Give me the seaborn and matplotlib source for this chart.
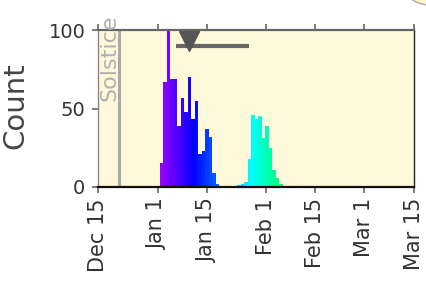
import numpy as np
import pandas as pd
import matplotlib
matplotlib.use("Agg")
import matplotlib.pyplot as plt
import seaborn as sns
from matplotlib.patches import Circle

# ---------------- data (days counted from Dec 15) ----------------
tick_days = [0, 17, 31, 48, 62, 76, 90]
tick_labels = ["Dec 15", "Jan 1", "Jan 15", "Feb 1", "Feb 15", "Mar 1", "Mar 15"]
early_days = [18, 19, 20, 21, 22, 23, 24, 25, 26, 27, 28, 29, 30, 31, 32, 33, 34]
early_counts = [15, 67, 100, 69, 69, 39, 57, 48, 70, 43, 55, 21, 23, 37, 32, 9, 2]
late_days = [40, 41, 42, 43, 44, 45, 46, 47, 48, 49, 50, 51, 52]
late_counts = [1, 2, 3, 18, 46, 43, 45, 31, 39, 25, 11, 6, 2]
solstice_day = 6
mean_day = 26
mean_level = 93
range_days = [22.3, 43.1]
range_level = 90
y_ticks = [0, 50, 100]

# ---------------- figure ----------------
sns.set_style("ticks")
plt.rcParams["font.family"] = ["DejaVu Sans"]

fig = plt.figure(figsize=(4.26, 2.91), dpi=100)
ax = fig.add_axes([98 / 426, 1 - 187 / 291, 315.5 / 426, 157 / 291])

df = pd.DataFrame({"day": early_days + late_days,
                   "count": early_counts + late_counts})
bins = [float(b) for b in np.arange(early_days[0] - 0.35, late_days[-1] + 0.66, 1.0)]
sns.histplot(data=df, x="day", weights="count", bins=bins, ax=ax,
             alpha=1, linewidth=0, element="bars")

cmap = matplotlib.colormaps["hsv_r"]
norm = matplotlib.colors.Normalize(vmin=-3, vmax=91.5)
for p in ax.patches:
    c = cmap(norm(p.get_x() + p.get_width() / 2))
    p.set_facecolor(c)
    p.set_edgecolor(c)
    p.set_linewidth(0)

ax.axvline(solstice_day, color="#aaaaaa", lw=2.2, zorder=1)
ax.text(3.4, 55, "Solstice", rotation=90, ha="center", va="bottom",
        color="#b0b0b0", fontsize=16, clip_on=False)

ax.plot(range_days, [range_level, range_level], color="#666666", lw=3,
        solid_capstyle="butt")
ax.plot([mean_day], [mean_level], marker="v", ms=14, color="#555555",
        clip_on=False, linestyle="none")

ax.set_facecolor("#fff9db")
ax.set_xlim(tick_days[0], tick_days[-1])
ax.set_ylim(0, 100)
ax.set_xticks(tick_days)
ax.set_xticklabels(tick_labels, rotation=90)
ax.set_yticks(y_ticks)
ax.set_xlabel("")
ax.set_ylabel("Count", fontsize=21, color="#444444")
ax.yaxis.set_label_coords(-0.218, 0.52)

ax.tick_params(axis="x", top=True, bottom=True, direction="out", length=4,
               width=1.2, color="#666666", labelsize=15, labelcolor="#333333",
               pad=4)
ax.tick_params(axis="y", left=True, direction="out", length=4, width=1.2,
               color="#666666", labelsize=14, labelcolor="#333333", pad=5)

for side in ["top", "right", "bottom", "left"]:
    ax.spines[side].set_visible(True)
ax.spines["top"].set_color("#666666")
ax.spines["top"].set_linewidth(1.6)
ax.spines["left"].set_color("#888888")
ax.spines["left"].set_linewidth(1)
ax.spines["right"].set_color("#222222")
ax.spines["right"].set_linewidth(1)
ax.spines["bottom"].set_color("#111111")
ax.spines["bottom"].set_linewidth(1.6)

fig.patches.append(Circle((4.30, 3.19), 0.33, transform=fig.dpi_scale_trans,
                          facecolor="#fff6c8", edgecolor="#aaaaaa", lw=1))

fig.savefig("out.png", dpi=100)
